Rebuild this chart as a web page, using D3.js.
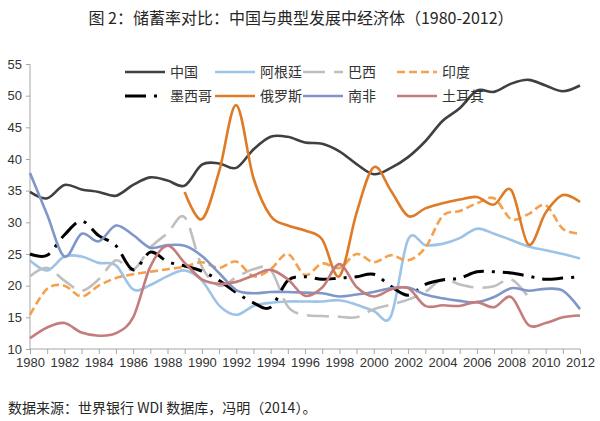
<!DOCTYPE html>
<html><head><meta charset="utf-8">
<script src="https://cdn.jsdelivr.net/npm/d3@7/dist/d3.min.js"></script>
<style>body{margin:0;background:#fff}</style>
</head><body>
<svg id="c" width="600" height="421"></svg>
<script>
const years = d3.range(1980, 2013);
const china = [34.8, 33.8, 35.9, 35.2, 34.8, 34.2, 35.9, 37.1, 36.6, 35.8, 39.1, 39.3, 38.6, 41.5, 43.5, 43.5, 42.6, 42.4, 41.2, 39.2, 37.6, 38.6, 40.3, 42.8, 46.0, 48.0, 50.8, 50.6, 51.9, 52.5, 51.6, 50.7, 51.6];
const argentina = [24.0, 22.4, 24.6, 24.6, 23.6, 23.2, 19.4, 20.1, 21.5, 22.4, 20.8, 16.9, 15.4, 16.8, 17.3, 17.5, 17.5, 17.5, 17.7, 17.0, 16.0, 15.2, 27.3, 26.4, 26.6, 27.5, 29.0, 28.2, 27.2, 26.2, 25.6, 25.0, 24.3];
const brazil = [21.5, 22.8, 20.8, 19.2, 21.0, 24.0, 22.5, 26.0, 28.3, 30.8, 23.0, 20.0, 21.3, 22.6, 22.5, 16.7, 15.4, 15.2, 15.1, 15.0, 16.3, 17.0, 17.8, 19.0, 21.0, 20.2, 19.7, 19.9, 21.0, 18.2, null, null, null];
const india = [15.4, 19.5, 20.0, 18.3, 20.0, 21.2, 21.8, 22.2, 22.6, 23.0, 23.7, 22.8, 23.8, 21.5, 22.6, 25.0, 21.7, 23.5, 22.8, 25.0, 23.7, 24.8, 24.0, 26.0, 31.0, 31.8, 33.0, 33.8, 30.5, 31.3, 32.7, 29.0, 28.2];
const mexico = [25.0, 24.8, 28.0, 30.2, 27.9, 26.3, 22.5, 25.3, 23.8, 23.1, 22.3, 20.8, 18.9, 17.3, 16.6, 20.8, 21.4, 21.0, 21.2, 21.4, 21.8, 19.9, 18.5, 20.2, 20.9, 21.2, 22.2, 22.2, 22.0, 21.5, 21.0, 21.2, 21.4];
const russia = [null, null, null, null, null, null, null, null, null, 34.8, 30.5, 38.0, 48.5, 37.0, 31.0, 29.5, 28.7, 27.3, 21.5, 31.5, 38.7, 35.0, 31.0, 32.2, 33.0, 33.6, 34.0, 32.8, 35.1, 26.5, 31.5, 34.3, 33.2];
const southAfrica = [37.8, 31.2, 24.6, 28.2, 27.0, 29.5, 28.0, 26.0, 26.4, 26.3, 24.7, 22.0, 19.3, 18.8, 19.0, 19.0, 18.9, 18.8, 18.3, 18.6, 19.0, 19.6, 19.7, 18.6, 18.0, 17.6, 17.4, 18.2, 19.6, 19.2, 19.5, 19.2, 16.3];
const turkey = [11.7, 13.4, 14.1, 12.6, 12.1, 12.5, 15.0, 23.0, 26.3, 23.6, 21.0, 20.3, 20.6, 21.6, 22.5, 21.0, 18.4, 19.7, 23.4, 19.8, 18.3, 19.4, 19.6, 16.8, 16.9, 16.8, 17.4, 16.6, 18.2, 13.8, 14.1, 15.0, 15.3];

const seriesNames = ["中国", "阿根廷", "巴西", "印度", "墨西哥", "俄罗斯", "南非", "土耳其"];
const seriesValues = [china, argentina, brazil, india, mexico, russia, southAfrica, turkey];
const seriesColors = ["#404040", "#9DC3E6", "#BFBFBF", "#F4A04C", "#000000", "#DF7B27", "#7F96C8", "#C47C7C"];
const seriesDash = [null, null, "22,9", "8,4", "21,8,3,8", null, null, null];
const yTicks = [10, 15, 20, 25, 30, 35, 40, 45, 50, 55];
const xTickLabels = [1980, 1982, 1984, 1986, 1988, 1990, 1992, 1994, 1996, 1998, 2000, 2002, 2004, 2006, 2008, 2010, 2012];

const titleText = "图 2：储蓄率对比：中国与典型发展中经济体（1980-2012）";
const sourceText = "数据来源：世界银行 WDI 数据库，冯明（2014）。";

const svg = d3.select("#c");
const x = d3.scaleLinear().domain([1980, 2012]).range([30, 580]);
const y = d3.scaleLinear().domain([10, 55]).range([349, 64]);
const cjk = "'Noto Sans CJK SC','Noto Sans',sans-serif";
const axisFont = "'Liberation Sans',Arial,sans-serif";

svg.append("text").attr("x", 301).attr("y", 24).attr("text-anchor", "middle")
  .attr("font-family", cjk).attr("font-size", 16).attr("fill", "#262626").text(titleText);

// axes
const yAxis = svg.append("g").attr("transform", "translate(30,0)")
  .call(d3.axisLeft(y).tickValues(yTicks).tickSize(4).tickPadding(4));
const xAxis = svg.append("g").attr("transform", "translate(0,349)")
  .call(d3.axisBottom(x).tickValues(years).tickSize(5).tickPadding(4)
    .tickFormat(d => xTickLabels.includes(d) ? d : ""));
[yAxis, xAxis].forEach(g => {
  g.select(".domain").attr("stroke", "#A6A6A6").attr("stroke-width", 1);
  g.selectAll(".tick line").attr("stroke", "#A6A6A6");
  g.selectAll(".tick text").attr("font-family", axisFont).attr("font-size", 13).attr("fill", "#333");
});
xAxis.select(".domain").attr("d", "M30,0H580");
yAxis.select(".domain").attr("d", "M0,64V349");

// lines
const line = d3.line()
  .defined(d => d[1] != null)
  .x(d => x(d[0])).y(d => y(d[1]))
  .curve(d3.curveCardinal.tension(0));

seriesValues.forEach((vals, i) => {
  svg.append("path")
    .datum(years.map((yr, j) => [yr, vals[j]]))
    .attr("d", line)
    .attr("fill", "none")
    .attr("stroke", seriesColors[i])
    .attr("stroke-width", i === 4 ? 3 : 2.6)
    .attr("stroke-dasharray", seriesDash[i])
    .attr("stroke-linejoin", "round");
});

// legend
const legCols = [125, 215, 303, 397];
const legRows = [72, 96];
seriesNames.forEach((name, i) => {
  const lx = legCols[i % 4], ly = legRows[Math.floor(i / 4)];
  svg.append("line").attr("x1", lx).attr("x2", lx + 40).attr("y1", ly).attr("y2", ly)
    .attr("stroke", seriesColors[i]).attr("stroke-width", i === 4 ? 3 : 2.6)
    .attr("stroke-dasharray", seriesDash[i]);
  svg.append("text").attr("x", lx + 45).attr("y", ly + 5)
    .attr("font-family", cjk).attr("font-size", 14).attr("fill", "#333").text(name);
});

svg.append("text").attr("x", 8).attr("y", 413)
  .attr("font-family", cjk).attr("font-size", 14).attr("fill", "#262626").text(sourceText);
</script>
</body></html>
